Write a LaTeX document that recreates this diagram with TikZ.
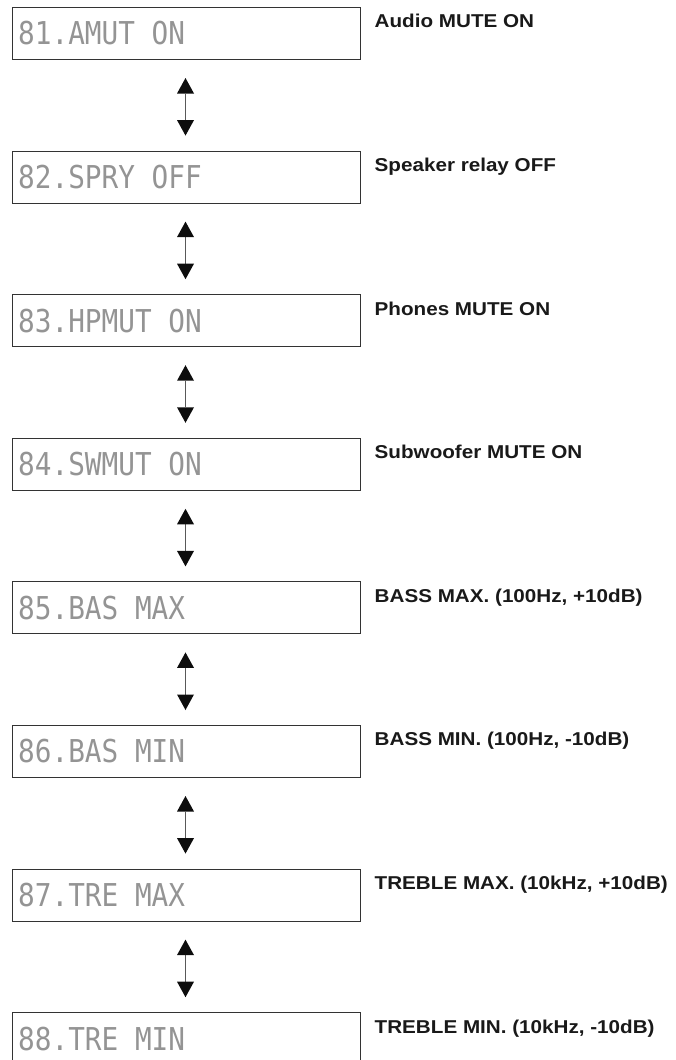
\documentclass[tikz,border=0pt]{standalone}
\usepackage{fontspec}
\usetikzlibrary{arrows.meta}
\newfontfamily\lblfont{Liberation Sans}[FakeStretch=1.11]
\newfontfamily\lcdfont{DejaVu Sans Mono}[FakeStretch=0.88]
\tikzset{
  lcdbox/.style={draw=black!80, line width=1pt, minimum width=348pt, minimum height=52pt, inner sep=0pt, anchor=north west},
  lcdtext/.style={inner sep=0pt, anchor=west, text=black!42, font=\lcdfont\fontsize{31.5}{32}\selectfont},
  desc/.style={inner sep=0pt, anchor=base west, text=black!90, font=\lblfont\bfseries\fontsize{18.6}{20}\selectfont},
  updown/.style={draw=black!65, line width=1.8pt, {Triangle[width=17pt,length=15.5pt,fill=black!95,line width=0pt]}-{Triangle[width=17pt,length=15.5pt,fill=black!95,line width=0pt]}, shorten <=18pt, shorten >=15pt}
}
\begin{document}
\begin{tikzpicture}[x=1pt,y=-1pt]
\useasboundingbox (0,0) rectangle (676,1060);
\clip (0,0) rectangle (676,1060);
\def\gap{143.6}
\foreach \i/\code/\txt in {1/81.AMUT ON/Audio MUTE ON,
  2/82.SPRY OFF/Speaker relay OFF,
  3/83.HPMUT ON/Phones MUTE ON,
  4/84.SWMUT ON/Subwoofer MUTE ON,
  5/85.BAS MAX/{BASS MAX. (100Hz, +10dB)},
  6/86.BAS MIN/{BASS MIN. (100Hz, -10dB)},
  7/87.TRE MAX/{TREBLE MAX. (10kHz, +10dB)},
  8/88.TRE MIN/{TREBLE MIN. (10kHz, -10dB)}}{
  \pgfmathsetmacro\ytop{7+(\i-1)*\gap}
  \node[lcdbox] (b\i) at (12,\ytop) {};
  \node[lcdtext] (t\i) at ([xshift=6pt]b\i.west) {\code};
  \node[desc] (l\i) at (374.5,\ytop+20.8) {\txt};
}
\foreach \i [evaluate=\i as \j using int(\i+1)] in {1,...,7}{
  \draw[updown] ([xshift=-1pt]b\i.south) -- ([xshift=-1pt]b\j.north);
}
\end{tikzpicture}
\end{document}
